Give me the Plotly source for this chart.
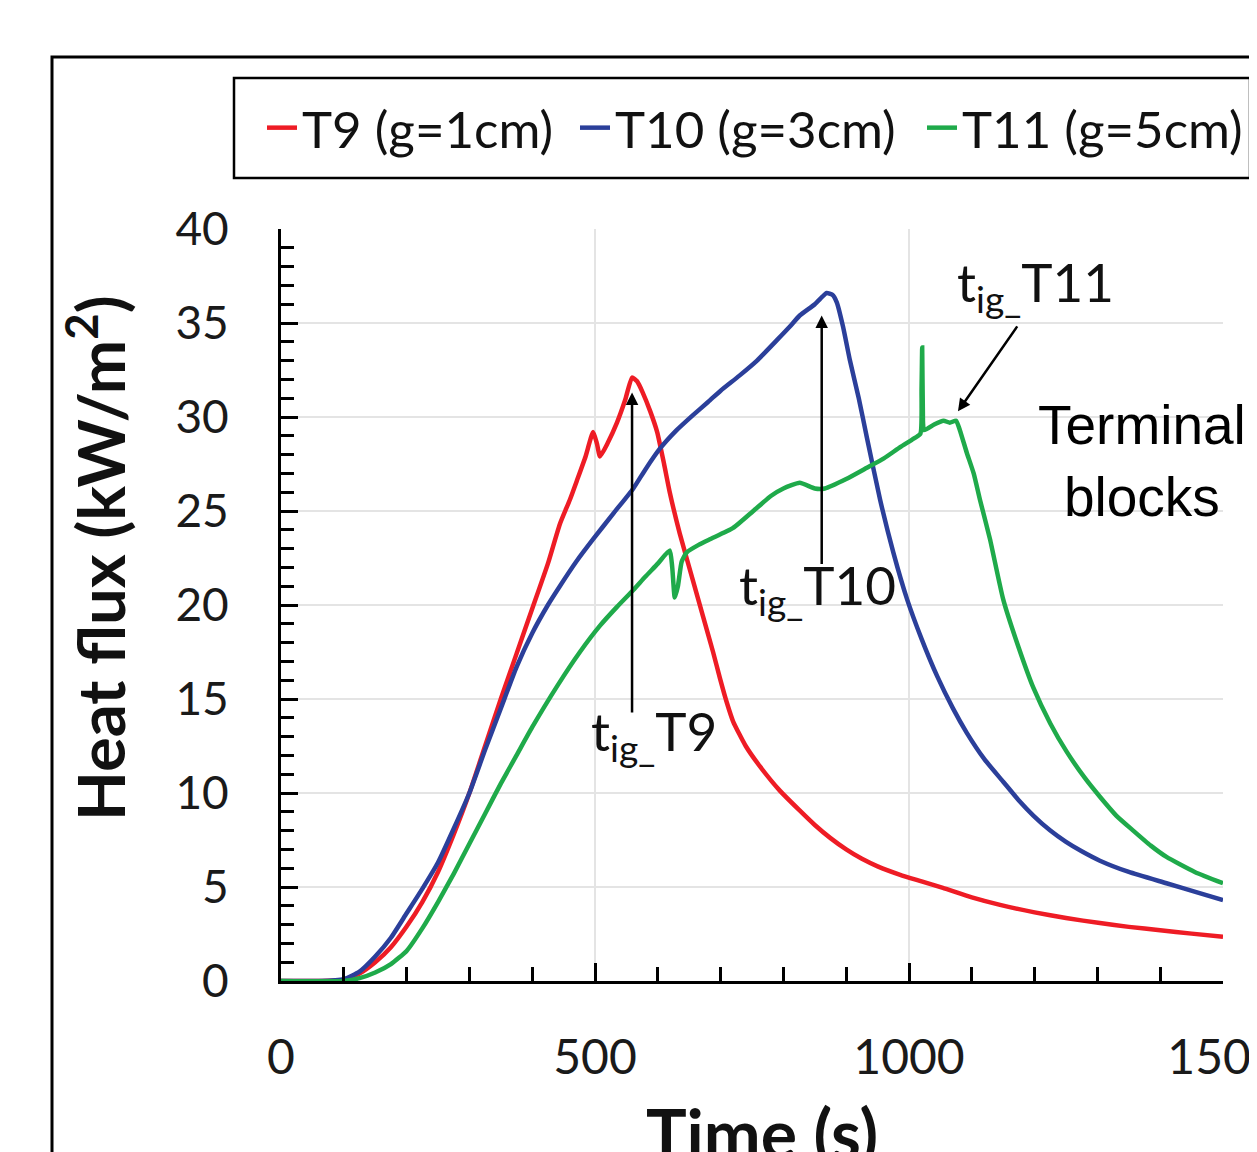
import plotly.graph_objects as go

# ---------------- data ----------------
t9_time = [0, 60, 100, 125, 150, 175, 200, 225, 250, 275, 300, 325, 350, 375, 400, 425, 444, 460, 471, 485,
           497, 503, 508, 520, 535, 548, 559, 567, 576, 588, 599, 610, 619, 635, 656, 672, 688, 699, 710, 720,
           740, 763, 795, 825, 850, 875, 900, 925, 950, 986, 1020, 1054, 1100, 1145, 1200, 1250, 1304, 1350, 1400, 1450, 1500]
t9_flux = [0, 0, 0.05, 0.4, 1.0, 1.8, 2.9, 4.2, 5.8, 7.8, 10.0, 12.5, 15.0, 17.4, 19.8, 22.2, 24.3, 25.6, 26.6, 27.9,
           29.2, 28.6, 27.9, 28.6, 29.7, 30.9, 32.1, 31.9, 31.3, 30.3, 29.2, 27.5, 26.0, 23.8, 21.3, 19.4, 17.5, 16.1, 14.8, 13.8,
           12.5, 11.4, 10.1, 9.1, 8.3, 7.6, 7.0, 6.5, 6.1, 5.65, 5.3, 4.95, 4.45, 4.05, 3.65, 3.35, 3.08, 2.88, 2.7, 2.52, 2.35]

t10_time = [0, 60, 100, 125, 150, 175, 200, 225, 250, 275, 300, 325, 350, 375, 400, 425, 444, 470, 497, 530,
            561, 580, 603, 630, 656, 680, 700, 730, 758, 790, 810, 826, 850, 862, 869, 878, 885, 895, 906, 920,
            933, 954, 975, 997, 1020, 1045, 1070, 1092, 1120, 1150, 1175, 1198, 1225, 1250, 1275, 1304, 1350, 1410, 1460, 1500]
t10_flux = [0, 0, 0.1, 0.5, 1.3, 2.3, 3.6, 4.9, 6.3, 8.1, 10.0, 12.3, 14.5, 16.7, 18.5, 20.0, 21.0, 22.3, 23.5, 24.9,
            26.2, 27.2, 28.3, 29.3, 30.1, 30.8, 31.4, 32.2, 33.0, 34.1, 34.8, 35.4, 36.0, 36.4, 36.6, 36.5, 36.1, 34.8, 33.0, 31.0,
            28.9, 25.6, 22.8, 20.3, 18.2, 16.2, 14.5, 13.2, 11.8, 10.6, 9.6, 8.8, 8.0, 7.4, 6.9, 6.4, 5.8, 5.2, 4.7, 4.3]

t11_time = [0, 100, 125, 150, 175, 200, 225, 250, 275, 300, 325, 350, 375, 400, 440, 476, 508, 535, 561, 580,
            600, 619, 623, 627, 632, 638, 646, 665, 683, 720, 752, 780, 800, 826, 850, 866, 900, 933, 960, 986,
            1005, 1018, 1020, 1021, 1022, 1024, 1040, 1055, 1065, 1075, 1081, 1092, 1103, 1113, 1129, 1150, 1175, 1198, 1225, 1251,
            1280, 1304, 1330, 1357, 1385, 1410, 1455, 1500]
t11_flux = [0, 0, 0.15, 0.45, 0.9, 1.6, 2.8, 4.2, 5.7, 7.3, 8.9, 10.5, 12.0, 13.5, 15.7, 17.5, 18.9, 19.9, 20.8, 21.5,
            22.2, 22.9, 22.0, 20.4, 21.0, 22.3, 22.8, 23.2, 23.5, 24.1, 25.0, 25.8, 26.2, 26.5, 26.2, 26.2, 26.7, 27.3, 27.8, 28.4,
            28.8, 29.1, 31.5, 33.7, 30.5, 29.3, 29.6, 29.8, 29.7, 29.8, 29.3, 28.1, 27.0, 25.6, 23.5, 20.3, 17.7, 15.6, 13.7, 12.2,
            10.8, 9.8, 8.8, 8.0, 7.2, 6.6, 5.8, 5.2]

series_names = ["T9 (g=1cm)", "T10 (g=3cm)", "T11 (g=5cm)"]
series_colors = ["#EE1C25", "#2B3F9A", "#1FAA4A"]
legend_widths = [268, 302, 290]

x_tick_vals = [0, 500, 1000, 1500]
y_tick_vals = [0, 5, 10, 15, 20, 25, 30, 35, 40]

# ---------------- figure ----------------
W, H = 1257, 1152
OFF = 8  # page body offset
L, R, T, B = 273, 42, 221, 179
PW, PH = W - L - R, H - T - B


def px(xs):
    return (xs - OFF - L) / PW


def py(ys):
    return (H - B - (ys - OFF)) / PH


fig = go.Figure()
for tt, vv, nm, col, lw in zip([t9_time, t10_time, t11_time], [t9_flux, t10_flux, t11_flux],
                               series_names, series_colors, legend_widths):
    fig.add_trace(go.Scatter(x=tt, y=vv, mode="lines", name=nm, legendwidth=lw,
                             line=dict(color=col, width=4.5, shape="spline", smoothing=0.5)))

x_tick_font = dict(family="Lato", size=48, color="#1a1a1a")
y_tick_font = dict(family="Lato", size=46, color="#1a1a1a")

fig.update_layout(
    width=W, height=H,
    margin=dict(l=L, r=R, t=T, b=B, autoexpand=False),
    paper_bgcolor="white", plot_bgcolor="white",
    showlegend=True,
    legend=dict(orientation="h", x=px(262), y=py(128), xanchor="left", yanchor="middle",
                bgcolor="rgba(0,0,0,0)", borderwidth=0, entrywidthmode="pixels",
                font=dict(family="Lato", size=51, color="#111111"),
                itemwidth=30, tracegroupgap=0),
    xaxis=dict(range=[0, 1500], tickvals=x_tick_vals, ticks="inside", ticklen=18, tickwidth=2.5,
               tickcolor="black", showline=True, linecolor="black", linewidth=3,
               showgrid=True, gridcolor="#E4E4E4", gridwidth=1.5, zeroline=False,
               tickfont=x_tick_font, ticklabelstandoff=32, ticklabeloverflow="allow",
               minor=dict(dtick=100, ticks="inside", ticklen=14, tickwidth=2.5, tickcolor="black", showgrid=False)),
    yaxis=dict(range=[0, 40], tickvals=y_tick_vals, ticks="inside", ticklen=17, tickwidth=2.5,
               tickcolor="black", showline=True, linecolor="black", linewidth=3,
               showgrid=True, gridcolor="#E4E4E4", gridwidth=1.5, zeroline=False,
               tickfont=y_tick_font, ticklabelstandoff=40, ticklabeloverflow="allow",
               minor=dict(dtick=1, ticks="inside", ticklen=13, tickwidth=2.5, tickcolor="black", showgrid=False)),
)

# outer frame and legend box
fig.add_shape(type="rect", xref="paper", yref="paper", x0=px(52), x1=px(1330), y0=py(1230), y1=py(57),
              line=dict(color="black", width=3), fillcolor="rgba(0,0,0,0)", layer="below")
fig.add_shape(type="rect", xref="paper", yref="paper", x0=px(234), x1=px(1250), y0=py(178), y1=py(78),
              line=dict(color="black", width=2.5), fillcolor="rgba(0,0,0,0)")

# axis titles
fig.add_annotation(xref="paper", yref="paper", x=px(96), y=py(558), text="<b>Heat flux (kW/m<sup>2</sup>)</b>",
                   textangle=-90, showarrow=False, font=dict(family="Lato", size=65, color="#111111"),
                   xanchor="center", yanchor="middle")
fig.add_annotation(xref="paper", yref="paper", x=px(762), y=py(1132), text="<b>Time (s)</b>",
                   showarrow=False, font=dict(family="Lato", size=68, color="#111111"),
                   xanchor="center", yanchor="middle")

# arrows (head at data point, tail in data coords)
arrow_style = dict(showarrow=True, arrowhead=2, arrowsize=1, arrowwidth=2.5, arrowcolor="black", text="",
                   axref="x", ayref="y", standoff=0, startstandoff=0)
fig.add_annotation(x=559, y=31.3, ax=559, ay=14.2, **arrow_style)
fig.add_annotation(x=861, y=35.4, ax=861, ay=22.1, **arrow_style)
fig.add_annotation(x=1078, y=30.3, ax=1174, ay=34.9, **arrow_style)

label_font = dict(family="Lato", size=53, color="#111111")
fig.add_annotation(x=490, y=13.1, text="t<sub>ig_</sub>T9", showarrow=False, xanchor="left", yanchor="middle",
                   font=label_font)
fig.add_annotation(x=726, y=20.9, text="t<sub>ig_</sub>T10", showarrow=False, xanchor="left", yanchor="middle",
                   font=label_font)
fig.add_annotation(x=1073, y=37.0, text="t<sub>ig_</sub>T11", showarrow=False, xanchor="left", yanchor="middle",
                   font=label_font)

fig.add_annotation(x=1371, y=27.65, text="Terminal<br>blocks", showarrow=False, xanchor="center", yanchor="middle",
                   font=dict(family="Liberation Sans", size=55, color="black"), align="center")

fig.write_html("out.html")
